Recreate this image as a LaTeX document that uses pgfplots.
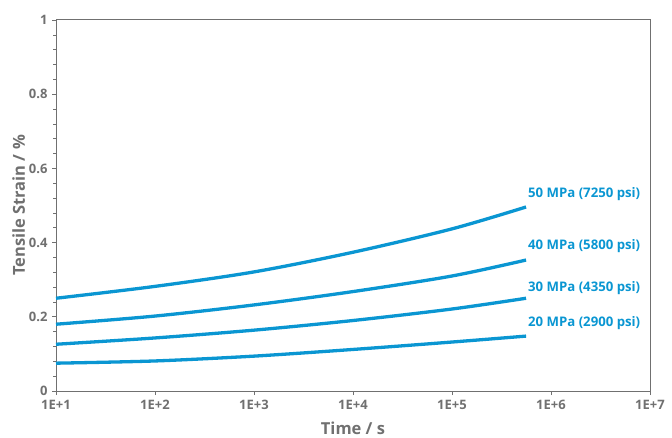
\documentclass[border=0pt]{standalone}
\usepackage{fontspec}
\setmainfont{Open Sans}
\usepackage{pgfplots}
\pgfplotsset{compat=1.18}
\definecolor{cblue}{HTML}{0A96D2}
\definecolor{tgray}{HTML}{707070}
\begin{document}
\begin{tikzpicture}
\useasboundingbox (-56pt,-46pt) rectangle (616pt,391pt);
\begin{axis}[
  scale only axis, width=594pt, height=371pt,
  xmode=log, log basis x=10,
  xmin=10, xmax=1e7, ymin=0, ymax=1,
  xtick={10,100,1000,10000,100000,1000000,10000000},
  xticklabels={1E+1,1E+2,1E+3,1E+4,1E+5,1E+6,1E+7},
  ytick={0,0.2,0.4,0.6,0.8,1},
  yticklabels={0,0.2,0.4,0.6,0.8,1},
  minor y tick num=4,
  tick align=outside,
  xtick pos=bottom, ytick pos=left,
  major tick length=4pt, minor tick length=3pt,
  every tick/.style={tgray, line width=0.8pt},
  every minor tick/.style={tgray, line width=0.6pt},
  axis line style={tgray, line width=1pt},
  tick label style={font=\bfseries\fontsize{13}{15}\selectfont, text=tgray},
  xticklabel style={yshift=-2pt},
  yticklabel style={xshift=-1pt},
  /pgf/number format/assume math mode=true,
  xlabel={Time / s}, ylabel={Tensile Strain / \%},
  label style={font=\bfseries\fontsize{16.5}{18}\selectfont, text=tgray},
  xlabel style={yshift=-5pt},
  ylabel style={yshift=-3pt},
  clip=false,
]
\addplot[cblue, line width=3.3pt, smooth] coordinates {(10,0.250)(100,0.282)(1000,0.321)(10000,0.374)(100000,0.437)(560000,0.496)};
\addplot[cblue, line width=3.3pt, smooth] coordinates {(10,0.180)(100,0.202)(1000,0.232)(10000,0.268)(100000,0.310)(560000,0.353)};
\addplot[cblue, line width=3.3pt, smooth] coordinates {(10,0.126)(100,0.143)(1000,0.164)(10000,0.190)(100000,0.221)(560000,0.250)};
\addplot[cblue, line width=3.3pt, smooth] coordinates {(10,0.075)(100,0.081)(1000,0.094)(10000,0.112)(100000,0.132)(560000,0.148)};
\begin{scope}[every node/.style={anchor=east, text=cblue, font=\bfseries\fontsize{13.2}{15}\selectfont, inner sep=0pt}]
\node at (axis cs:8e6,0.531) {50 MPa (7250 psi)};
\node at (axis cs:8e6,0.391) {40 MPa (5800 psi)};
\node at (axis cs:8e6,0.278) {30 MPa (4350 psi)};
\node at (axis cs:8e6,0.183) {20 MPa (2900 psi)};
\end{scope}
\end{axis}
\end{tikzpicture}
\end{document}
